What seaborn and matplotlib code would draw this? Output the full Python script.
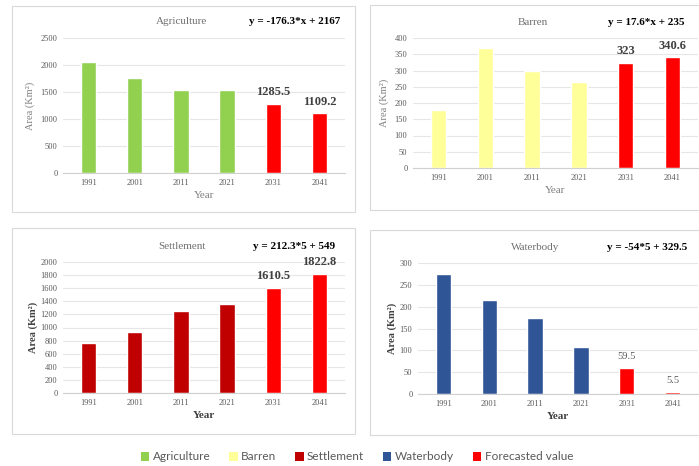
import matplotlib
matplotlib.use('Agg')
import matplotlib.pyplot as plt
import seaborn as sns
import pandas as pd
from matplotlib.patches import Patch, Rectangle

# data
years = ['1991', '2001', '2011', '2021', '2031', '2041']
agriculture = [2060, 1760, 1530, 1530, 1285.5, 1109.2]
barren = [180, 370, 300, 265, 323, 340.6]
settlement = [770, 930, 1250, 1360, 1610.5, 1822.8]
waterbody = [275, 215, 175, 108, 59.5, 5.5]
forecast_labels = {
    'Agriculture': ['1285.5', '1109.2'],
    'Barren': ['323', '340.6'],
    'Settlement': ['1610.5', '1822.8'],
    'Waterbody': ['59.5', '5.5'],
}
equations = {
    'Agriculture': 'y = -176.3*x + 2167',
    'Barren': 'y = 17.6*x + 235',
    'Settlement': 'y = 212.3*5 + 549',
    'Waterbody': 'y = -54*5 + 329.5',
}

colors = {'Agriculture': '#92D050', 'Barren': '#FFFF99', 'Settlement': '#C00000',
          'Waterbody': '#2F5597', 'Forecasted value': '#FF0000'}

sns.set_style('white')
plt.rcParams['font.family'] = ['Liberation Serif', 'DejaVu Serif']

fig = plt.figure(figsize=(6.99, 4.66), dpi=100)

W, H = 699, 466
def px_axes(x0, y0, x1, y1):
    return fig.add_axes([x0 / W, 1 - y1 / H, (x1 - x0) / W, (y1 - y0) / H])

def box(x0, y0, x1, y1):
    fig.add_artist(Rectangle((x0 / W, 1 - y1 / H), (x1 - x0) / W, (y1 - y0) / H,
                             transform=fig.transFigure, fill=False,
                             edgecolor='#d9d9d9', lw=0.8))

panels = [
    ('Agriculture', agriculture, (63, 38, 345, 173), (12, 6, 355, 212), 2500, 500, False),
    ('Barren', barren, (413, 38, 698, 168), (370, 5, 705, 210), 400, 50, False),
    ('Settlement', settlement, (63, 262, 345, 393), (12, 228, 355, 434), 2000, 200, True),
    ('Waterbody', waterbody, (418, 263, 698, 394), (370, 230, 705, 435), 300, 50, True),
]

for name, vals, ax_px, box_px, ymax, step, bold_lab in panels:
    box(*box_px)
    ax = px_axes(*ax_px)
    df = pd.DataFrame({'Year': years, 'Area': vals})
    pal = [colors[name]] * 4 + [colors['Forecasted value']] * 2
    sns.barplot(data=df, x='Year', y='Area', hue='Year', palette=pal,
                legend=False, width=0.33, saturation=1, ax=ax)
    ax.set_ylim(0, ymax)
    ax.set_yticks(range(0, ymax + 1, step))
    ax.yaxis.grid(True, color='#e6e6e6', lw=0.8)
    ax.set_axisbelow(True)
    sns.despine(ax=ax, left=True)
    ax.spines['bottom'].set_color('#d0d0d0')
    ax.tick_params(axis='both', labelsize=6, colors='#595959', length=0, pad=4)
    ax.set_xlim(-0.55, 5.55)

    if bold_lab:
        ax.set_ylabel('Area (Km²)', fontsize=7.5, fontweight='bold', color='#404040', labelpad=2)
        ax.set_xlabel('Year', fontsize=8, fontweight='bold', color='#404040', labelpad=3)
    else:
        ax.set_ylabel('Area (Km²)', fontsize=7.5, color='#808080', labelpad=4)
        ax.set_xlabel('Year', fontsize=8, color='#808080', labelpad=3)

    ax.text(0.42, 1.12, name, transform=ax.transAxes, ha='center', va='center',
            fontsize=8, color='#707070')
    ax.text(0.82, 1.12, equations[name], transform=ax.transAxes, ha='center', va='center',
            fontsize=8, fontweight='bold', color='black')

    labs = forecast_labels[name]
    for i, lab in zip([4, 5], labs):
        if name == 'Waterbody':
            ax.annotate(lab, (i, vals[i]), xytext=(0, 5), textcoords='offset points',
                        ha='center', va='bottom', fontsize=7.5, color='#595959')
        else:
            ax.annotate(lab, (i, vals[i]), xytext=(0, 4), textcoords='offset points',
                        ha='center', va='bottom', fontsize=9, fontweight='bold',
                        color='#404040')

handles = [Patch(facecolor=colors[k], edgecolor='none', label=k) for k in
           ['Agriculture', 'Barren', 'Settlement', 'Waterbody', 'Forecasted value']]
leg = fig.legend(handles=handles, loc='center', bbox_to_anchor=(357 / W, 1 - 457 / H),
                 ncol=5, frameon=False, handlelength=0.7, handleheight=0.7,
                 handletextpad=0.3, columnspacing=1.6,
                 prop={'family': 'Lato', 'size': 8.5})
for t in leg.get_texts():
    t.set_color('#595959')

fig.savefig('out.png', dpi=100, facecolor='white')
